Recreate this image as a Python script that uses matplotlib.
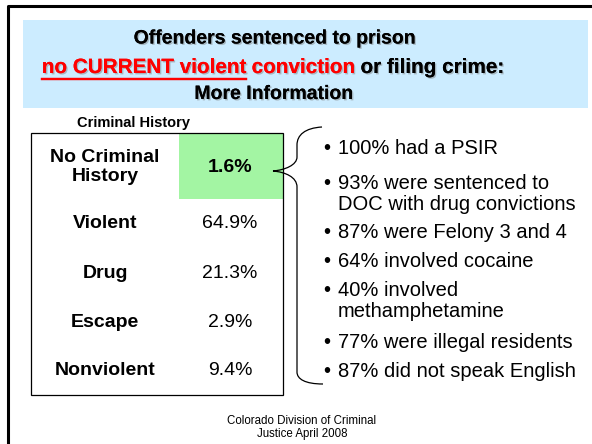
import matplotlib
matplotlib.use("Agg")
import matplotlib.pyplot as plt
from matplotlib.patches import Rectangle, PathPatch
from matplotlib.path import Path
import matplotlib.patheffects as pe

# data
categories = ["No Criminal\nHistory", "Violent", "Drug", "Escape", "Nonviolent"]
shares = ["1.6%", "64.9%", "21.3%", "2.9%", "9.4%"]
bullets = ["100% had a PSIR",
           "93% were sentenced to\nDOC with drug convictions",
           "87% were Felony 3 and 4",
           "64% involved cocaine",
           "40% involved\nmethamphetamine",
           "77% were illegal residents",
           "87% did not speak English"]
footer = ["Colorado Division of Criminal", "Justice April 2008"]

FONT = "Liberation Sans"
plt.rcParams["font.family"] = [FONT, "DejaVu Sans"]

fig = plt.figure(figsize=(5.92, 4.44), dpi=100)
ax = fig.add_axes([0, 0, 1, 1])
ax.set_xlim(0, 592)
ax.set_ylim(444, 0)
ax.axis("off")

# slide frame
ax.plot([7.5, 7.5, 592], [444, 6, 6], color="black", lw=2.2, solid_capstyle="butt")

# title box
ax.add_patch(Rectangle((23, 20), 565, 88, facecolor="#CCECFF", edgecolor="none"))


def shadow():
    return [pe.withSimplePatchShadow(offset=(1, -1), shadow_rgbFace="#777777", alpha=0.45), pe.Normal()]


ax.text(275, 39, "Offenders sentenced to prison", ha="center", va="center",
        fontsize=14, fontweight="bold", path_effects=shadow())
ax.text(274, 94.5, "More Information", ha="center", va="center",
        fontsize=14, fontweight="bold", path_effects=shadow())

# mixed colour line
pieces = [("no CURRENT violent", "#FF0000"), (" conviction", "#FF0000"), (" or filing crime:", "black")]
renderer = fig.canvas.get_renderer()
objs = []
for s, c in pieces:
    t = ax.text(0, 67.5, s, ha="left", va="center", fontsize=14.9, fontweight="bold",
                color=c, path_effects=shadow())
    objs.append(t)
widths = [t.get_window_extent(renderer).width for t in objs]
x = 273 - sum(widths) / 2
for t, w in zip(objs, widths):
    t.set_x(x)
    x += w
x0 = objs[0].get_position()[0]
ax.plot([x0, x0 + widths[0]], [79.5, 79.5], color="#FF0000", lw=1.6, path_effects=shadow())

# table
ax.text(133.5, 127, "Criminal History", ha="center", va="baseline", fontsize=10.5, fontweight="bold")
ax.add_patch(Rectangle((179, 133), 104, 66, facecolor="#A3F5A3", edgecolor="none"))
ax.add_patch(Rectangle((31, 133), 252, 262, facecolor="none", edgecolor="black", lw=0.9))
row_y = [167, 223, 273, 322, 370]
for i, (cat, val) in enumerate(zip(categories, shares)):
    ax.text(105, row_y[i], cat, ha="center", va="center", fontsize=14, fontweight="bold",
            linespacing=1.2)
    ax.text(230, row_y[i], val, ha="center", va="center", fontsize=14,
            fontweight="bold" if i == 0 else "normal")

# brace
verts = [(322, 127), (305, 128), (297, 135), (297, 145),
         (297, 157),
         (297, 165), (285, 170), (273, 171),
         (285, 172), (297, 177), (297, 187),
         (297, 372),
         (297, 379), (305, 384), (323, 384)]
codes = [Path.MOVETO, Path.CURVE4, Path.CURVE4, Path.CURVE4,
         Path.LINETO,
         Path.CURVE4, Path.CURVE4, Path.CURVE4,
         Path.CURVE4, Path.CURVE4, Path.CURVE4,
         Path.LINETO,
         Path.CURVE4, Path.CURVE4, Path.CURVE4]
ax.add_patch(PathPatch(Path(verts, codes), facecolor="none", edgecolor="black", lw=0.9))

# bullets
bullet_y = [148, 183, 232, 261, 290, 342, 371]
for y, b in zip(bullet_y, bullets):
    ax.text(327, y, "\u2022", ha="center", va="center", fontsize=14.5)
    for k, line in enumerate(b.split("\n")):
        ax.text(338, y + 21.5 * k, line, ha="left", va="center", fontsize=14.5)

# footer
for k, line in enumerate(footer):
    ax.text(302, 424 + 13 * k, line, ha="center", va="baseline", fontsize=8.3)

fig.savefig("out.png", dpi=100)
